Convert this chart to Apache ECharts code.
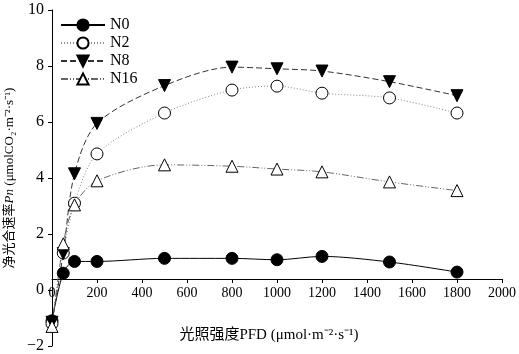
<!DOCTYPE html>
<html>
<head>
<meta charset="utf-8">
<script src="https://cdn.jsdelivr.net/npm/echarts@6/dist/echarts.min.js"></script>
<style>
  html, body { margin: 0; padding: 0; background: #fff; }
  #chart { width: 519px; height: 354px; }
</style>
</head>
<body>
<div id="chart"></div>
<script>
// 光照强度 PFD
var pfd = [0, 50, 100, 200, 500, 800, 1000, 1200, 1500, 1800];
// 净光合速率 Pn
var n0  = [-1.1, 0.6, 1.02, 1.02, 1.13, 1.13, 1.08, 1.2, 1.0, 0.64];
var n2  = [-1.2, 1.32, 3.1, 4.86, 6.32, 7.14, 7.28, 7.03, 6.86, 6.32];
var n8  = [-1.15, 1.3, 4.15, 5.95, 7.3, 7.96, 7.9, 7.82, 7.44, 6.94];
var n16 = [-1.3, 1.65, 3.04, 3.9, 4.47, 4.42, 4.32, 4.22, 3.86, 3.55];

var font = '"Liberation Serif", "Noto Sans CJK SC", serif';

function pairs(ys) {
  return pfd.map(function (x, i) { return [x, ys[i]]; });
}

var chart = echarts.init(document.getElementById('chart'));
chart.setOption({
  animation: false,
  grid: { left: 52, right: 17, top: 10, bottom: 8, containLabel: false, outerBoundsMode: 'none' },
  legend: {
    left: 55, top: 12, orient: 'vertical',
    itemWidth: 44, itemHeight: 14, itemGap: 2,
    textStyle: { fontFamily: font, fontSize: 16, color: '#000' },
    data: ['N0', 'N2', 'N8', 'N16']
  },
  xAxis: {
    type: 'value', min: 0, max: 2000, interval: 200,
    offset: -67,
    axisLine: { onZero: false, lineStyle: { color: '#000', width: 1 } },
    axisTick: { show: true, length: 4, lineStyle: { color: '#000' } },
    axisLabel: {
      fontFamily: font, fontSize: 14, color: '#000', margin: 7,
      formatter: function (v) { return String(v); }
    },
    splitLine: { show: false },
    name: '光照强度PFD (μmol·m⁻²·s⁻¹)',
    nameLocation: 'middle', nameGap: 49,
    nameTextStyle: { fontFamily: font, fontSize: 15, color: '#000', padding: [0, 16, 0, 0] }
  },
  yAxis: {
    type: 'value', min: -2, max: 10, interval: 2,
    axisLine: { show: true, lineStyle: { color: '#000', width: 1 } },
    axisTick: { show: true, length: 4, lineStyle: { color: '#000' } },
    axisLabel: {
      fontFamily: font, fontSize: 16, color: '#000', margin: 8,
      formatter: function (v) { return String(v).replace('-', '−'); }
    },
    splitLine: { show: false },
    name: '净光合速率{i|Pn} (μmolCO₂·m⁻²·s⁻¹)',
    nameLocation: 'middle', nameGap: 28,
    nameTextStyle: {
      fontFamily: font, fontSize: 13, color: '#000',
      rich: { i: { fontFamily: font, fontSize: 13, fontStyle: 'italic', color: '#000' } }
    }
  },
  series: [
    {
      name: 'N0', type: 'line', data: pairs(n0), smooth: 0.3,
      symbol: 'circle', symbolSize: 12,
      lineStyle: { color: '#000', width: 1, type: 'solid' },
      itemStyle: { color: '#000', borderColor: '#000', borderWidth: 1 }
    },
    {
      name: 'N2', type: 'line', data: pairs(n2), smooth: 0.3,
      symbol: 'circle', symbolSize: 12,
      lineStyle: { color: '#888', width: 1, type: [1, 2] },
      itemStyle: { color: '#fff', borderColor: '#000', borderWidth: 1 }
    },
    {
      name: 'N8', type: 'line', data: pairs(n8), smooth: 0.3,
      symbol: 'triangle', symbolRotate: 180, symbolSize: 12,
      lineStyle: { color: '#333', width: 1, type: [6, 3] },
      itemStyle: { color: '#000', borderColor: '#000', borderWidth: 1 }
    },
    {
      name: 'N16', type: 'line', data: pairs(n16), smooth: 0.3,
      symbol: 'triangle', symbolSize: 12,
      lineStyle: { color: '#666', width: 1, type: [7, 2, 1, 2, 1, 2] },
      itemStyle: { color: '#fff', borderColor: '#000', borderWidth: 1 }
    }
  ]
});
</script>
</body>
</html>
